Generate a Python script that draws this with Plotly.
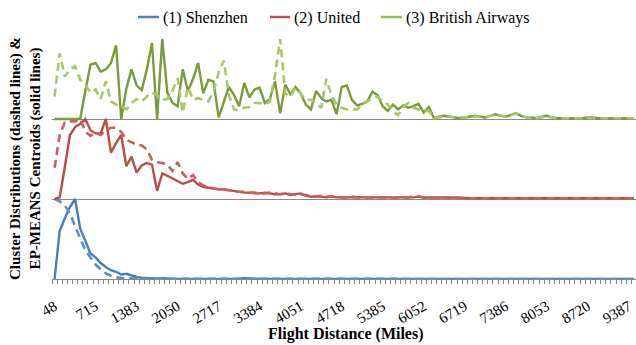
import plotly.graph_objects as go

# ---------------- data ----------------
tick_labels = ["48", "715", "1383", "2050", "2717", "3384", "4051", "4718",
               "5385", "6052", "6719", "7386", "8053", "8720", "9387"]
bins_per_label = 8
n_bins = 114

series_names = ["(1) Shenzhen", "(2) United", "(3) British Airways"]

# normalised values (0-1) per distance bin; each cluster is stacked in its own band
shenzhen_centroid = [
    0.00, 0.60, 0.76, 0.90, 1.00, 0.63, 0.48, 0.32, 0.27, 0.20,
    0.15, 0.11, 0.09, 0.055, 0.065, 0.04, 0.025, 0.015, 0.01, 0.005,
    0.003, 0.01, 0.003, 0.002, 0.002, 0.002, 0.0, 0.0, 0.0, 0.0,
    0.0, 0.0, 0.0, 0.0, 0.0, 0.0, 0.004, 0.01, 0.004, 0.0,
    0.0, 0.0, 0.0, 0.0, 0.0, 0.0, 0.0, 0.0, 0.0, 0.0,
    0.0, 0.0, 0.0, 0.0, 0.0, 0.0, 0.0, 0.0, 0.0, 0.0,
    0.0, 0.0, 0.0, 0.0, 0.0, 0.0, 0.0, 0.0, 0.0, 0.0,
    0.0, 0.0, 0.0, 0.0, 0.0, 0.0, 0.0, 0.0, 0.0, 0.0,
    0.0, 0.0, 0.0, 0.0, 0.0, 0.0, 0.0, 0.0, 0.0, 0.0,
    0.0, 0.0, 0.0, 0.0, 0.0, 0.0, 0.0, 0.0, 0.0, 0.0,
    0.0, 0.0, 0.0, 0.0, 0.0, 0.0, 0.0, 0.0, 0.0, 0.0,
    0.0, 0.0, 0.0, 0.0,
]
shenzhen_dist = [
    1.00, 0.97, 0.92, 0.82, 0.66, 0.50, 0.36, 0.27, 0.18, 0.12,
    0.07, 0.04, 0.02, 0.015, 0.01, 0.006, 0.004, 0.003, 0.002, 0.002,
    0.0, 0.0, 0.0, 0.0, 0.0, 0.0, 0.0, 0.0, 0.0, 0.0,
    0.0, 0.0, 0.0, 0.0, 0.0, 0.0, 0.0, 0.0, 0.0, 0.0,
    0.0, 0.0, 0.0, 0.0, 0.0, 0.0, 0.0, 0.0, 0.0, 0.0,
    0.0, 0.0, 0.0, 0.0, 0.0, 0.0, 0.0, 0.0, 0.0, 0.0,
    0.0, 0.0, 0.0, 0.0, 0.0, 0.0, 0.0, 0.0, 0.0, 0.0,
    0.0, 0.0, 0.0, 0.0, 0.0, 0.0, 0.0, 0.0, 0.0, 0.0,
    0.0, 0.0, 0.0, 0.0, 0.0, 0.0, 0.0, 0.0, 0.0, 0.0,
    0.0, 0.0, 0.0, 0.0, 0.0, 0.0, 0.0, 0.0, 0.0, 0.0,
    0.0, 0.0, 0.0, 0.0, 0.0, 0.0, 0.0, 0.0, 0.0, 0.0,
    0.0, 0.0, 0.0, 0.0,
]
united_centroid = [
    0.00, 0.02, 0.40, 0.80, 0.90, 0.94, 1.00, 0.86, 0.82, 0.82,
    1.00, 0.58, 0.70, 0.80, 0.41, 0.53, 0.33, 0.42, 0.45, 0.43,
    0.10, 0.32, 0.29, 0.26, 0.22, 0.19, 0.21, 0.24, 0.18, 0.15,
    0.14, 0.13, 0.12, 0.12, 0.11, 0.10, 0.09, 0.08, 0.08, 0.07,
    0.07, 0.08, 0.07, 0.06, 0.06, 0.07, 0.05, 0.06, 0.07, 0.04,
    0.03, 0.03, 0.03, 0.02, 0.03, 0.02, 0.02, 0.02, 0.02, 0.02,
    0.02, 0.02, 0.02, 0.015, 0.02, 0.015, 0.015, 0.02, 0.015, 0.015,
    0.02, 0.03, 0.015, 0.02, 0.015, 0.02, 0.015, 0.015, 0.02, 0.015,
    0.01, 0.01, 0.01, 0.01, 0.01, 0.01, 0.01, 0.01, 0.01, 0.01,
    0.01, 0.01, 0.01, 0.01, 0.01, 0.01, 0.01, 0.01, 0.01, 0.01,
    0.01, 0.01, 0.01, 0.01, 0.01, 0.01, 0.01, 0.01, 0.01, 0.01,
    0.01, 0.01, 0.01, 0.01,
]
united_dist = [
    0.39, 0.80, 0.96, 0.97, 0.97, 1.00, 0.84, 0.79, 0.83, 0.80,
    0.86, 0.89, 0.89, 0.84, 0.74, 0.71, 0.68, 0.67, 0.62, 0.49,
    0.46, 0.45, 0.43, 0.35, 0.46, 0.32, 0.25, 0.30, 0.21, 0.17,
    0.15, 0.13, 0.12, 0.12, 0.11, 0.10, 0.09, 0.09, 0.08, 0.08,
    0.07, 0.07, 0.08, 0.07, 0.06, 0.07, 0.06, 0.05, 0.06, 0.05,
    0.04, 0.03, 0.04, 0.03, 0.03, 0.03, 0.02, 0.02, 0.03, 0.02,
    0.02, 0.02, 0.02, 0.02, 0.02, 0.02, 0.01, 0.02, 0.02, 0.02,
    0.03, 0.035, 0.02, 0.015, 0.02, 0.015, 0.02, 0.015, 0.015, 0.015,
    0.01, 0.01, 0.01, 0.01, 0.01, 0.01, 0.01, 0.01, 0.01, 0.01,
    0.01, 0.01, 0.01, 0.01, 0.01, 0.01, 0.01, 0.01, 0.01, 0.01,
    0.01, 0.01, 0.01, 0.01, 0.01, 0.01, 0.01, 0.01, 0.01, 0.01,
    0.01, 0.01, 0.01, 0.01,
]
ba_centroid = [
    0.00, 0.00, 0.00, 0.00, 0.00, 0.00, 0.35, 0.68, 0.70, 0.59,
    0.62, 0.70, 0.92, 0.00, 0.38, 0.62, 0.42, 0.36, 0.62, 0.95,
    0.00, 1.00, 0.33, 0.20, 0.16, 0.62, 0.35, 0.50, 0.70, 0.32,
    0.49, 0.47, 0.02, 0.22, 0.40, 0.30, 0.16, 0.45, 0.27, 0.37,
    0.39, 0.20, 0.25, 0.47, 0.07, 0.43, 0.31, 0.40, 0.32, 0.18,
    0.12, 0.35, 0.26, 0.22, 0.24, 0.06, 0.40, 0.42, 0.24, 0.17,
    0.19, 0.22, 0.34, 0.30, 0.16, 0.10, 0.18, 0.12, 0.17, 0.14,
    0.16, 0.19, 0.08, 0.15, 0.01, 0.03, 0.04, 0.03, 0.02, 0.01,
    0.02, 0.03, 0.04, 0.03, 0.02, 0.04, 0.06, 0.04, 0.03, 0.05,
    0.07, 0.04, 0.02, 0.02, 0.01, 0.03, 0.04, 0.02, 0.01, 0.01,
    0.01, 0.01, 0.01, 0.01, 0.02, 0.02, 0.01, 0.01, 0.01, 0.01,
    0.01, 0.01, 0.01, 0.01,
]
ba_dist = [
    0.28, 0.82, 0.53, 0.62, 0.66, 0.49, 0.43, 0.33, 0.37, 0.25,
    0.47, 0.22, 0.18, 0.16, 0.12, 0.20, 0.25, 0.22, 0.28, 0.33,
    0.30, 0.24, 0.25, 0.35, 0.51, 0.08, 0.40, 0.24, 0.26, 0.24,
    0.22, 0.35, 0.58, 0.73, 0.30, 0.12, 0.11, 0.14, 0.15, 0.20,
    0.20, 0.18, 0.22, 0.55, 1.00, 0.32, 0.28, 0.39, 0.32, 0.24,
    0.24, 0.20, 0.14, 0.50, 0.30, 0.18, 0.14, 0.12, 0.12, 0.12,
    0.18, 0.22, 0.26, 0.28, 0.22, 0.18, 0.10, 0.05, 0.15, 0.20,
    0.14, 0.12, 0.10, 0.10, 0.01, 0.02, 0.03, 0.03, 0.02, 0.02,
    0.02, 0.02, 0.03, 0.03, 0.02, 0.04, 0.06, 0.04, 0.03, 0.05,
    0.07, 0.04, 0.02, 0.02, 0.01, 0.02, 0.03, 0.02, 0.01, 0.01,
    0.01, 0.01, 0.01, 0.01, 0.01, 0.01, 0.01, 0.01, 0.01, 0.01,
    0.01, 0.01, 0.01, 0.01,
]

# ---------------- styling ----------------
FONT = "Liberation Serif"
GRID = "#898989"
legend_colors = ["#4F81BD", "#C0504D", "#9BBB59"]
solid_colors = ["#4A7DBA", "#BE4B48", "#7A9A3C"]
dash_colors = ["#5B8ECC", "#CC5E5B", "#A6C76A"]

bins = list(range(n_bins))
clusters = [
    (shenzhen_centroid, shenzhen_dist),
    (united_centroid, united_dist),
    (ba_centroid, ba_dist),
]

fig = go.Figure()
for k, (cent, dist) in enumerate(clusters):
    offset = k  # each cluster occupies its own unit band
    fig.add_trace(go.Scatter(
        x=bins, y=[offset + v for v in cent], mode="lines",
        line=dict(color=solid_colors[k], width=2.4),
        name=series_names[k] + " centroid", showlegend=False, hoverinfo="skip"))
    fig.add_trace(go.Scatter(
        x=bins, y=[offset + v for v in dist], mode="lines",
        line=dict(color=dash_colors[k], width=2.6, dash="8px,5px"),
        name=series_names[k] + " distribution", showlegend=False, hoverinfo="skip"))

L, R, T, B = 52, 0, 39, 66
W, H = 636, 345
pw, ph = W - L - R, H - T - B


def px_x(p):
    return (p - L) / pw


def px_y(p):
    return (H - B - p) / ph


shapes = []
annotations = []
# manual legend
legend_items = [(138, 159, 161), (270, 290, 292), (381, 402, 404)]
for k, (x0, x1, xt) in enumerate(legend_items):
    shapes.append(dict(type="line", xref="paper", yref="paper",
                       x0=px_x(x0), x1=px_x(x1), y0=px_y(17), y1=px_y(17),
                       line=dict(color=legend_colors[k], width=2.5)))
    annotations.append(dict(text=series_names[k], xref="paper", yref="paper",
                            x=px_x(xt), y=px_y(18), xanchor="left", yanchor="middle",
                            showarrow=False, font=dict(family=FONT, size=16, color="#000000")))

annotations.append(dict(
    text="<b>Cluster Distributions (dashed lines) &<br>EP-MEANS Centroids (solid lines)</b>",
    xref="paper", yref="paper", x=px_x(25), y=0.5, textangle=-90,
    xanchor="center", yanchor="middle", showarrow=False,
    font=dict(family=FONT, size=15, color="#000000")))
annotations.append(dict(
    text="<b>Flight Distance (Miles)</b>", xref="paper", yref="paper",
    x=px_x(346), y=px_y(334), xanchor="center", yanchor="middle", showarrow=False,
    font=dict(family=FONT, size=16, color="#000000")))

fig.update_layout(
    width=W, height=H,
    margin=dict(l=L, r=R, t=T, b=B, pad=0),
    paper_bgcolor="white", plot_bgcolor="white",
    showlegend=False,
    shapes=shapes, annotations=annotations,
    font=dict(family=FONT, size=14, color="#000000"),
)
fig.update_xaxes(
    range=[-0.5, 113.4],
    tickmode="array",
    tickvals=[i * bins_per_label for i in range(len(tick_labels))],
    ticktext=tick_labels,
    tickangle=-30,
    ticks="outside", ticklen=12, tickcolor="rgba(0,0,0,0)",
    tickfont=dict(family=FONT, size=15, color="#000000"),
    showline=True, linecolor=GRID, linewidth=1,
    showgrid=False, zeroline=False,
    minor=dict(ticks="outside", ticklen=4, tickcolor=GRID, tickwidth=1,
               tickmode="array", tickvals=[b - 0.5 for b in range(n_bins + 1)],
               showgrid=False),
)
fig.update_yaxes(
    range=[0, 3],
    tickmode="array", tickvals=[1, 2, 3],
    showticklabels=False, ticks="",
    showgrid=True, gridcolor=GRID, gridwidth=1,
    zeroline=False, showline=False,
)

fig.write_html("out.html")
